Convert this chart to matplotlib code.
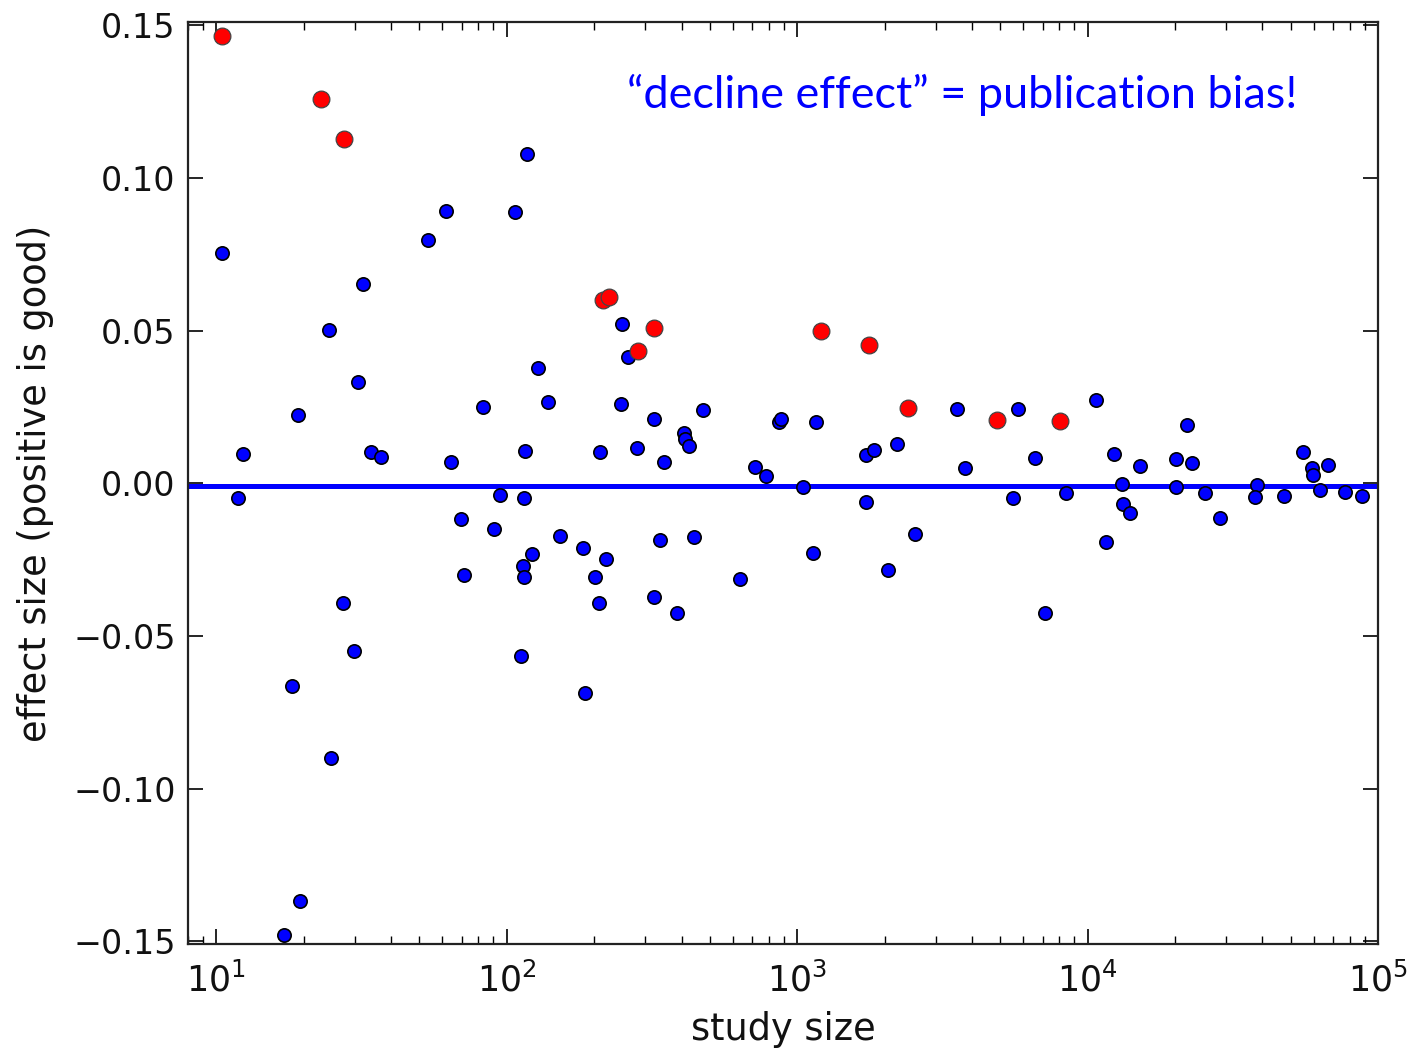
import matplotlib
matplotlib.use("Agg")
import matplotlib.pyplot as plt
import numpy as np

# study sizes and effect sizes
blue_n = [10.5, 117.5, 62, 107, 53.7, 31.9, 24.4, 30.7, 19.1, 128.5, 139, 82.6,
          12.4, 34.2, 37, 64.1, 115.9, 210, 11.9, 94.6, 114.8, 69.8, 90.3, 152.7,
          183.6, 122.2, 114, 115.2, 71.1, 202, 207.5, 27.3, 29.7, 112.5, 18.2,
          186.7, 24.9, 19.4, 17.1, 249, 261, 247, 321, 476, 407, 411, 426, 282,
          348, 718, 780, 869, 883, 1161, 1049, 1726, 1835, 2208, 3548, 3781, 1726,
          2553, 219, 338, 441, 321, 387, 637, 1133, 2051, 5754, 5535, 6607, 7151,
          8405, 10675, 12355, 13161, 13300, 13990, 11590, 15200, 20170, 20110,
          21940, 22840, 25410, 28640, 38230, 37700, 47640, 55080, 59320, 59620,
          67120, 63240, 76740, 87860]
blue_effect = [0.0753, 0.1079, 0.0891, 0.0889, 0.0797, 0.0654, 0.0503, 0.0332,
               0.0222, 0.0377, 0.0266, 0.0250, 0.0097, 0.0103, 0.0086, 0.0071,
               0.0107, 0.0103, -0.0047, -0.0039, -0.0048, -0.0117, -0.0150,
               -0.0174, -0.0213, -0.0231, -0.0272, -0.0307, -0.0302, -0.0307,
               -0.0392, -0.0394, -0.0551, -0.0567, -0.0665, -0.0687, -0.0901,
               -0.1369, -0.1481, 0.0523, 0.0414, 0.0261, 0.0209, 0.0239, 0.0165,
               0.0146, 0.0122, 0.0114, 0.0069, 0.0052, 0.0025, 0.0199, 0.0209,
               0.0199, -0.0014, 0.0092, 0.0110, 0.0127, 0.0243, 0.0050, -0.0062,
               -0.0166, -0.0249, -0.0187, -0.0175, -0.0372, -0.0425, -0.0314,
               -0.0229, -0.0284, 0.0242, -0.0047, 0.0081, -0.0424, -0.0033,
               0.0272, 0.0094, -0.0003, -0.0069, -0.0096, -0.0192, 0.0055, 0.0078,
               -0.0014, 0.0192, 0.0067, -0.0033, -0.0114, -0.0007, -0.0045,
               -0.0042, 0.0102, 0.0051, 0.0028, 0.0059, -0.0021, -0.0029, -0.0043]

red_n = [10.5, 22.9, 27.5, 215, 226, 284, 321, 1210, 1774, 2400, 4866, 8030]
red_effect = [0.1464, 0.1258, 0.1127, 0.0599, 0.0609, 0.0432, 0.0508, 0.0498,
              0.0452, 0.0246, 0.0206, 0.0203]

mean_effect = -0.0008
line_n = [8, 97000]

plt.rcParams.update({
    "xtick.direction": "in",
    "ytick.direction": "in",
    "xtick.top": True,
    "ytick.right": True,
    "axes.linewidth": 1.6,
    "axes.edgecolor": "#222222",
    "font.size": 24,
})

fig = plt.figure(figsize=(14.14, 10.55), dpi=100)
ax = fig.add_axes([0.133, 0.105, 0.8415, 0.874])

ax.plot(line_n, [mean_effect, mean_effect], color="#0000ff", lw=3.6, zorder=2)
ax.scatter(blue_n, blue_effect, s=92, c="#0000ff", edgecolors="black",
           linewidths=1.2, zorder=3)
ax.scatter(red_n, red_effect, s=145, c="#ff0000", edgecolors="#444444",
           linewidths=0.9, zorder=4)

ax.set_xscale("log")
ax.set_xlim(8, 1e5)
ax.set_ylim(-0.151, 0.151)
ax.set_yticks(np.arange(-0.15, 0.151, 0.05))
ax.tick_params(which="major", length=11, width=1.2, labelsize=24, pad=9,
               labelcolor="#111111")
ax.tick_params(axis="x", which="major", labelsize=25, pad=13)
ax.tick_params(which="minor", length=6, width=1.0)

ax.set_xlabel("study size", fontsize=26.5, labelpad=9, color="#111111")
ax.set_ylabel("effect size (positive is good)", fontsize=26.5, labelpad=14,
              color="#111111")

ax.text(0.369, 0.9067, "\u201cdecline effect\u201d = publication bias!",
        transform=ax.transAxes, color="#0000ff", fontsize=32.4,
        family=["Lato", "DejaVu Sans"], va="baseline", ha="left")

fig.savefig("out.png", dpi=100)
